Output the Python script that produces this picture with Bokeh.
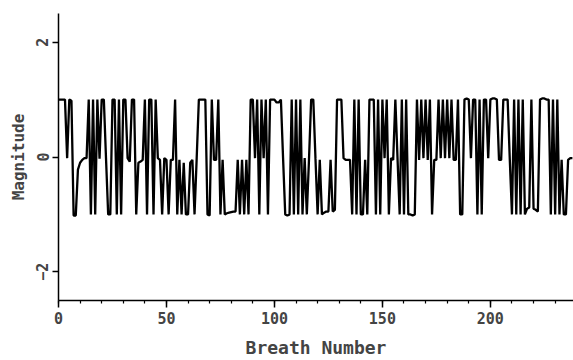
from bokeh.plotting import figure
from bokeh.models import FixedTicker, SingleIntervalTicker, Range1d
from bokeh.embed import file_html
from bokeh.resources import INLINE

# Values, one per breath
mag_000 = [1.0, 1.0, 1.0, 1.0, -0.02, 1.0, 0.98, -1.02, -1.02, -0.22]
mag_010 = [-0.1, -0.05, -0.02, -0.02, 1.0, -1.0, 1.0, -1.0, 1.0, -0.03]
mag_020 = [1.0, 1.0, -0.02, -1.0, -1.0, 1.0, 1.0, -1.0, 1.0, -1.0]
mag_030 = [1.0, 1.0, -0.02, -0.08, 1.0, 1.0, -1.0, -0.1, -0.08, -0.05]
mag_040 = [1.0, -1.0, 1.0, 1.0, -1.0, 1.0, -0.02, -0.05, -1.0, -0.02]
mag_050 = [-0.05, -1.0, -0.05, -0.05, 1.0, -1.0, -0.05, -1.0, -0.1, -1.0]
mag_060 = [-1.0, -0.1, -0.05, -1.0, -0.02, 1.0, 1.0, 1.0, 1.0, -1.0]
mag_070 = [-1.02, 1.0, -0.05, -0.05, 1.0, -1.0, -0.05, -1.0, -0.98, -0.97]
mag_080 = [-0.96, -0.95, -0.95, -0.05, -1.0, -0.05, -1.0, -0.05, -1.0, 1.0]
mag_090 = [1.0, -0.02, 1.0, -1.0, 1.0, -0.02, 1.0, -1.0, 1.0, 1.0]
mag_100 = [1.0, 0.95, 0.95, 1.0, -0.02, -1.0, -1.02, -1.0, 1.0, -1.0]
mag_110 = [1.0, -1.0, 1.0, -1.0, -0.02, -1.0, -0.05, 1.0, 1.0, -0.02]
mag_120 = [-1.0, -0.05, -1.0, -0.97, -0.95, -0.95, -0.05, -0.95, -0.92, 1.0]
mag_130 = [1.0, 1.0, -0.02, -0.05, -0.05, -0.05, -1.0, 1.0, -1.0, 1.0]
mag_140 = [-1.0, -1.0, -0.05, -1.0, 1.0, 1.0, 1.0, -1.0, 1.0, -1.0]
mag_150 = [1.0, -0.02, 1.0, -1.0, -0.02, -0.05, 1.0, -0.02, -1.0, 1.0]
mag_160 = [-1.0, 1.0, -1.0, -1.0, -1.02, -1.0, 1.0, -0.05, 1.0, -0.02]
mag_170 = [1.0, -0.05, 1.0, -1.0, -0.05, -0.05, 1.0, -0.02, 1.0, -0.02]
mag_180 = [1.0, -0.02, 1.0, -0.05, -0.05, 1.0, -1.0, -1.0, 1.0, 1.02]
mag_190 = [1.0, -0.02, 1.0, 1.0, -1.0, 1.0, -1.0, 1.0, 1.0, -0.02]
mag_200 = [1.0, 1.02, 1.02, 1.0, -0.05, -0.05, 1.0, 1.0, 1.0, -0.05]
mag_210 = [-1.0, 1.0, -1.0, 1.0, -1.0, 1.0, -1.0, -0.9, -0.88, 1.0]
mag_220 = [-0.9, -0.92, -0.95, 1.0, 1.02, 1.02, 1.0, 1.0, -1.0, 1.0]
mag_230 = [-1.0, 1.0, -1.0, -0.05, -1.0, -1.0, -0.05, -0.02, -0.02]

magnitude = (mag_000 + mag_010 + mag_020 + mag_030 + mag_040 + mag_050 +
             mag_060 + mag_070 + mag_080 + mag_090 + mag_100 + mag_110 +
             mag_120 + mag_130 + mag_140 + mag_150 + mag_160 + mag_170 +
             mag_180 + mag_190 + mag_200 + mag_210 + mag_220 + mag_230)
breath = list(range(len(magnitude)))

x_ticks_interval = 50
y_ticks = [-2, 0, 2]

FONT = "DejaVu Sans Mono"

p = figure(width=573, height=360, output_backend="svg", toolbar_location=None,
           x_range=Range1d(0, 238.5), y_range=Range1d(-2.5, 2.5),
           min_border_left=58, min_border_right=0, min_border_top=13,
           min_border_bottom=60)
p.outline_line_color = None
p.xgrid.visible = False
p.ygrid.visible = False
p.background_fill_color = "white"
p.border_fill_color = "white"

p.line(breath, magnitude, line_color="black", line_width=2.3)

xa = p.xaxis[0]
xa.ticker = SingleIntervalTicker(interval=x_ticks_interval, num_minor_ticks=5)
xa.axis_label = "Breath Number"
xa.axis_label_text_font = FONT
xa.axis_label_text_font_style = "bold"
xa.axis_label_text_font_size = "18px"
xa.axis_label_standoff = 10
xa.major_label_text_font = FONT
xa.major_label_text_font_style = "bold"
xa.major_label_text_font_size = "15px"
xa.major_label_standoff = 4
xa.major_tick_out = 7
xa.major_tick_in = 0
xa.minor_tick_out = 3
xa.minor_tick_in = 0
xa.axis_line_width = 1.5
xa.major_tick_line_width = 1.5
xa.minor_tick_line_width = 1.2

ya = p.yaxis[0]
ya.ticker = FixedTicker(ticks=y_ticks, minor_ticks=[])
ya.axis_label = "Magnitude"
ya.axis_label_text_font = FONT
ya.axis_label_text_font_style = "bold"
ya.axis_label_text_font_size = "16px"
ya.axis_label_standoff = 6
ya.major_label_orientation = "vertical"
ya.major_label_text_font = FONT
ya.major_label_text_font_style = "bold"
ya.major_label_text_font_size = "15px"
ya.major_label_standoff = 4
ya.major_tick_out = 6
ya.major_tick_in = 0
ya.minor_tick_out = 0
ya.minor_tick_in = 0
ya.axis_line_width = 1.5
ya.major_tick_line_width = 1.5

open("out.html", "w").write(file_html(p, INLINE))
